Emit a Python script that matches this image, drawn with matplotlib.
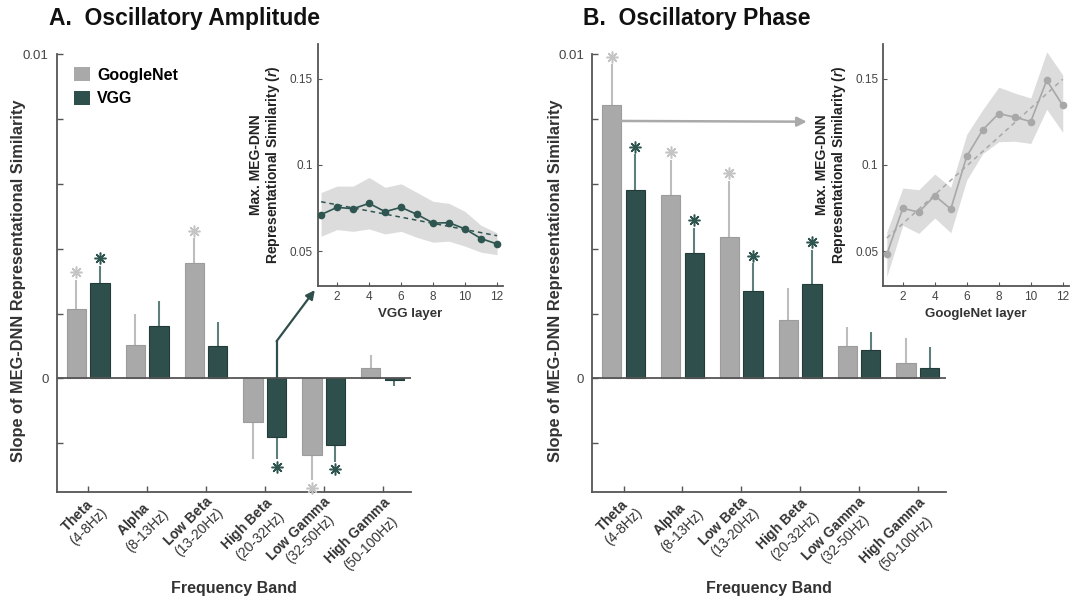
import numpy as np
import matplotlib
matplotlib.use("Agg")
import matplotlib.pyplot as plt
from matplotlib.patches import Patch
import matplotlib.transforms as mtransforms

plt.rcParams['font.family'] = ['Liberation Sans', 'DejaVu Sans']
plt.rcParams['mathtext.fontset'] = 'custom'
plt.rcParams['mathtext.rm'] = 'Liberation Sans'
plt.rcParams['mathtext.bf'] = 'Liberation Sans:bold'
plt.rcParams['mathtext.it'] = 'Liberation Sans:bold:italic'

# ---------------- data ----------------
band_names = ["Theta", "Alpha", "Low Beta", "High Beta", "Low Gamma", "High Gamma"]
band_ranges = ["4-8Hz", "8-13Hz", "13-20Hz", "20-32Hz", "32-50Hz", "50-100Hz"]

amp_google = [0.00215, 0.00102, 0.00356, -0.00133, -0.00236, 0.00033]
amp_google_err = [0.00090, 0.00098, 0.00076, 0.00115, 0.00078, 0.00040]
amp_google_sig = [True, False, True, False, True, False]
amp_vgg = [0.00294, 0.00161, 0.00101, -0.00180, -0.00205, -0.00005]
amp_vgg_err = [0.00053, 0.00079, 0.00073, 0.00068, 0.00052, 0.00019]
amp_vgg_sig = [True, False, False, True, True, False]

pha_google = [0.00844, 0.00566, 0.00436, 0.00179, 0.00100, 0.00048]
pha_google_err = [0.00125, 0.00108, 0.00173, 0.00101, 0.00058, 0.00078]
pha_google_sig = [True, True, True, False, False, False]
pha_vgg = [0.00580, 0.00386, 0.00270, 0.00290, 0.00088, 0.00033]
pha_vgg_err = [0.00111, 0.00078, 0.00085, 0.00106, 0.00055, 0.00065]
pha_vgg_sig = [True, True, True, True, False, False]

layers = list(range(1, 13))
vgg_layer_mean = [0.0712, 0.0754, 0.0746, 0.0777, 0.0729, 0.0754, 0.0713, 0.0663, 0.0665, 0.0629, 0.0573, 0.0542]
vgg_layer_upper = [0.0840, 0.0877, 0.0877, 0.0927, 0.0870, 0.0890, 0.0840, 0.0789, 0.0777, 0.0730, 0.0650, 0.0606]
vgg_layer_lower = [0.0587, 0.0625, 0.0615, 0.0629, 0.0600, 0.0615, 0.0580, 0.0552, 0.0558, 0.0529, 0.0494, 0.0480]
goo_layer_mean = [0.0481, 0.0749, 0.0726, 0.0822, 0.0744, 0.1050, 0.1203, 0.1297, 0.1276, 0.1251, 0.1490, 0.1344]
goo_layer_upper = [0.0611, 0.0866, 0.0856, 0.0947, 0.0870, 0.1177, 0.1320, 0.1450, 0.1416, 0.1387, 0.1655, 0.1521]
goo_layer_lower = [0.0353, 0.0650, 0.0603, 0.0692, 0.0607, 0.0913, 0.1066, 0.1134, 0.1137, 0.1124, 0.1322, 0.1188]

# ---------------- style ----------------
G_FACE = '#a9a9a9'
G_EDGE = '#9c9c9c'
G_ERR = '#bdbdbd'
G_STAR = '#c4c4c4'
V_FACE = '#2f4f4c'
V_EDGE = '#223c3a'
V_ERR = '#5f7f7c'
V_STAR = '#2f5550'
AX_COL = '#555555'
TXT_COL = '#444444'

W, H = 1070, 599
fig = plt.figure(figsize=(W / 100, H / 100), dpi=100)
axA = fig.add_axes([0.0533, 0.1786, 0.3306, 0.731])
axB = fig.add_axes([0.5536, 0.1786, 0.3306, 0.731])
inA = fig.add_axes([0.2968, 0.523, 0.1731, 0.4035])
inB = fig.add_axes([0.8255, 0.523, 0.1731, 0.4035])

x = np.arange(1, len(band_names) + 1)
bw = 0.328
off = 0.2


def bar_panel(ax, gv, ge, gs, vv, ve, vs, ylab_x):
    for vals, errs, sigs, sh, face, edge, ecol, scol in [
            (gv, ge, gs, -off, G_FACE, G_EDGE, G_ERR, G_STAR),
            (vv, ve, vs, off, V_FACE, V_EDGE, V_ERR, V_STAR)]:
        vals = np.array(vals)
        errs = np.array(errs)
        xs = x + sh
        ax.bar(xs, vals, width=bw, color=face, edgecolor=edge, linewidth=0.8, zorder=3)
        sign = np.sign(vals)
        tips = vals + sign * errs
        for xi, v, t, s, sg in zip(xs, vals, tips, sign, sigs):
            ax.plot([xi, xi], [v, t], color=ecol, lw=1.5, zorder=2, solid_capstyle='butt')
            if sg:
                ax.plot([xi], [t], linestyle='none', marker=(8, 2, 0), markersize=8.5,
                        markeredgewidth=1.1, color=scol, zorder=4, clip_on=False,
                        transform=ax.transData + mtransforms.ScaledTranslation(
                            0, 5.5 * s / 72, fig.dpi_scale_trans))
    ax.axhline(0, color=AX_COL, lw=1.3, zorder=5)
    ax.set_xlim(0.47, 6.48)
    ax.set_ylim(-0.0035, 0.01)
    yt = np.arange(-0.002, 0.01001, 0.002)
    ax.set_yticks(yt)
    ax.set_yticklabels(['0' if abs(v) < 1e-9 else ('0.01' if abs(v - 0.01) < 1e-9 else '') for v in yt])
    labels = ['$\\mathbf{' + n.replace(' ', '\\ ') + '}$\n(' + r + ')' for n, r in zip(band_names, band_ranges)]
    ax.set_xticks(x)
    ax.set_xticklabels(labels, rotation=45, ha='right', va='top', rotation_mode='anchor',
                       multialignment='center', fontsize=10, color='#333333', linespacing=1.15)
    for sp in ['top', 'right']:
        ax.spines[sp].set_visible(False)
    for sp in ['left', 'bottom']:
        ax.spines[sp].set_color(AX_COL)
        ax.spines[sp].set_linewidth(1.3)
    ax.tick_params(axis='both', direction='in', length=4, color=AX_COL, width=1)
    ax.tick_params(axis='y', labelsize=9.5, labelcolor=TXT_COL, pad=6)
    ax.tick_params(axis='x', pad=1)
    ax.set_ylabel('Slope of MEG-DNN Representational Similarity', fontsize=11.8,
                  fontweight='bold', color='#333333')
    ax.yaxis.set_label_coords(ylab_x, 0.482)
    bb = ax.get_position()
    fig.text(bb.x0 + bb.width / 2, 1 - 588 / H, 'Frequency Band', fontsize=11.5,
             fontweight='bold', color='#333333', ha='center', va='center')


bar_panel(axA, amp_google, amp_google_err, amp_google_sig, amp_vgg, amp_vgg_err, amp_vgg_sig, -0.088)
bar_panel(axB, pha_google, pha_google_err, pha_google_sig, pha_vgg, pha_vgg_err, pha_vgg_sig, -0.082)

axA.legend(handles=[Patch(facecolor=G_FACE, edgecolor='none', label='GoogleNet'),
                    Patch(facecolor=V_FACE, edgecolor='none', label='VGG')],
           loc='upper left', bbox_to_anchor=(0.03, 0.985), frameon=False,
           prop={'weight': 'bold', 'size': 11.5}, handlelength=1.0, handleheight=1.0,
           handletextpad=0.45, labelspacing=0.5, borderaxespad=0)


def inset(ax, mean, lo, hi, col, bandcol, xlabel):
    ax.fill_between(layers, lo, hi, color=bandcol, lw=0, zorder=1)
    coef = np.polyfit(layers, mean, 1)
    ax.plot(layers, np.polyval(coef, layers), linestyle=(0, (3, 2.5)), color=col, lw=1.1, zorder=2)
    ax.plot(layers, mean, '-o', color=col, lw=1.2, markersize=4.5, zorder=3)
    ax.set_xlim(0.78, 12.36)
    ax.set_ylim(0.03, 0.17)
    ax.set_xticks([2, 4, 6, 8, 10, 12])
    ax.set_yticks([0.05, 0.1, 0.15])
    ax.set_yticklabels(['0.05', '0.1', '0.15'])
    for sp in ['top', 'right']:
        ax.spines[sp].set_visible(False)
    for sp in ['left', 'bottom']:
        ax.spines[sp].set_color(AX_COL)
        ax.spines[sp].set_linewidth(1.3)
    ax.patch.set_alpha(0)
    ax.tick_params(axis='both', direction='in', length=3, color=AX_COL, labelsize=8.5,
                   labelcolor=TXT_COL)
    ax.set_xlabel(xlabel, fontsize=9.5, fontweight='bold', color='#333333', labelpad=4)
    ax.set_ylabel('Max. MEG-DNN\nRepresentational Similarity ($\\mathit{r}$)', fontsize=10,
                  fontweight='bold', color='#222222', linespacing=1.1)
    ax.yaxis.set_label_coords(-0.19, 0.5)


inset(inA, vgg_layer_mean, vgg_layer_lower, vgg_layer_upper, '#2f5550', '#dcdcdc', 'VGG layer')
inset(inB, goo_layer_mean, goo_layer_lower, goo_layer_upper, '#a8a8a8', '#dcdcdc', 'GoogleNet layer')

# arrows linking bars to insets
arrowA_x = 4 + off
arrowA_y = 0.00115
axA.plot([arrowA_x, arrowA_x], [0, arrowA_y], color=V_FACE, lw=1.6, zorder=6, solid_capstyle='butt')
axA.annotate('', xy=(-0.015, -0.018), xycoords=inA.transAxes, xytext=(arrowA_x, arrowA_y),
             textcoords='data',
             arrowprops=dict(arrowstyle='-|>', color=V_FACE, lw=1.6, shrinkA=0, shrinkB=0,
                             mutation_scale=13), zorder=6)

arrowB_x = 1 - off + bw / 2
arrowB_y = 0.00794
axB.annotate('', xy=(0.754, 1 - 121.7 / H), xycoords='figure fraction', xytext=(arrowB_x, arrowB_y),
             textcoords='data',
             arrowprops=dict(arrowstyle='-|>', color='#aaaaaa', lw=1.8, shrinkA=0, shrinkB=0,
                             mutation_scale=14), zorder=6)

fig.text(49 / W, 1 - 18 / H, 'A.  Oscillatory Amplitude', fontsize=16.5, fontweight='bold',
         va='center', ha='left', color='#111111')
fig.text(583 / W, 1 - 18 / H, 'B.  Oscillatory Phase', fontsize=16.5, fontweight='bold',
         va='center', ha='left', color='#111111')

fig.savefig('out.png', dpi=100)
